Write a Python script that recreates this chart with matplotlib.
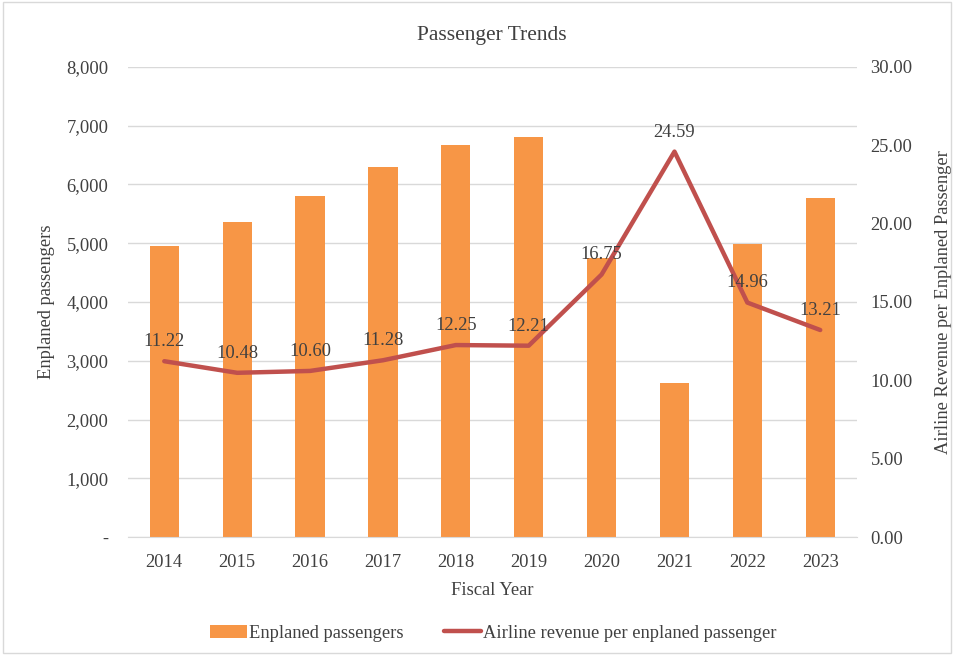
import matplotlib
matplotlib.use("Agg")
import matplotlib.pyplot as plt
from matplotlib.ticker import FuncFormatter, MultipleLocator
from matplotlib.patches import Rectangle

plt.rcParams['font.family'] = ['Liberation Serif', 'DejaVu Serif']

years = ["2014", "2015", "2016", "2017", "2018", "2019", "2020", "2021", "2022", "2023"]
enplaned = [4950, 5365, 5800, 6295, 6670, 6805, 4745, 2620, 4990, 5770]
revenue_per_pax = [11.22, 10.48, 10.60, 11.28, 12.25, 12.21, 16.75, 24.59, 14.96, 13.21]

bar_color = "#F79646"
line_color = "#C0504D"
text_color = "#404040"
grid_color = "#D9D9D9"
fs = 13.3

fig = plt.figure(figsize=(9.54, 6.55), dpi=100)
ax = fig.add_axes([0.134, 0.180, 0.764, 0.718])
ax2 = ax.twinx()

x = list(range(len(years)))
bars = ax.bar(x, enplaned, width=0.4, color=bar_color, zorder=2,
              label="Enplaned passengers")
line, = ax2.plot(x, revenue_per_pax, color=line_color, linewidth=3.2,
                 solid_capstyle="round", zorder=3,
                 label="Airline revenue per enplaned passenger")

for xi, v in zip(x, revenue_per_pax):
    ax2.annotate(f"{v:.2f}", (xi, v), xytext=(0, 8), textcoords="offset points",
                 ha="center", va="bottom", fontsize=fs, color=text_color)

ax.set_xlim(-0.5, len(years) - 0.5)
ax.set_ylim(0, 8000)
ax2.set_ylim(0, 30)
ax.yaxis.set_major_locator(MultipleLocator(1000))
ax2.yaxis.set_major_locator(MultipleLocator(5))
ax.yaxis.set_major_formatter(FuncFormatter(lambda v, p: "-" if v == 0 else f"{int(v):,}"))
ax2.yaxis.set_major_formatter(FuncFormatter(lambda v, p: f"{v:.2f}"))

ax.set_xticks(x)
ax.set_xticklabels(years)

ax.grid(axis="y", color=grid_color, linewidth=1, zorder=0)
ax.set_axisbelow(True)

for a in (ax, ax2):
    for s in a.spines.values():
        s.set_visible(False)
    a.tick_params(length=0, labelsize=fs, colors=text_color)
ax.spines["bottom"].set_visible(True)
ax.spines["bottom"].set_color(grid_color)
ax.tick_params(axis="y", pad=14)
ax2.tick_params(axis="y", pad=10)
ax.tick_params(axis="x", pad=12)

ax.set_xlabel("Fiscal Year", fontsize=fs, color=text_color, labelpad=8)
ax.set_ylabel("Enplaned passengers", fontsize=fs, color=text_color, labelpad=8)
ax2.set_ylabel("Airline Revenue per Enplaned Passenger", fontsize=fs,
               color=text_color, labelpad=16)
ax.set_title("Passenger Trends", fontsize=15.5, color=text_color, pad=19)

fig.legend(handles=[bars, line], loc="center", bbox_to_anchor=(0.517, 0.033),
           ncol=2, frameon=False, fontsize=fs, labelcolor=text_color,
           handlelength=2.0, handletextpad=0.1, columnspacing=2.2)

fig.patches.append(Rectangle((0.003, 0.003), 0.994, 0.994, transform=fig.transFigure,
                             fill=False, edgecolor="#D9D9D9", linewidth=1))

fig.savefig("out.png", dpi=100)
